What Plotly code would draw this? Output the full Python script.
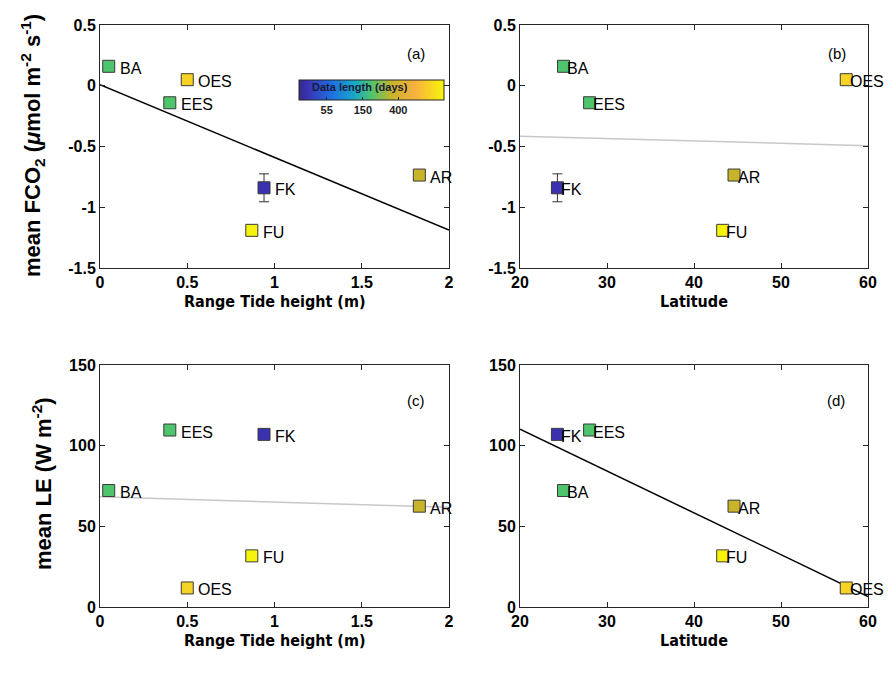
import numpy as np
import plotly.graph_objects as go

# ---------------- data ----------------
sites = ["BA", "OES", "EES", "FK", "FU", "AR"]
tide_range = [0.05, 0.50, 0.40, 0.94, 0.87, 1.83]
latitude = [25.0, 57.5, 28.0, 24.3, 43.3, 44.6]
fco2_mean = [0.16, 0.05, -0.14, -0.84, -1.19, -0.735]
fco2_err = [None, None, None, 0.115, None, None]
le_mean = [72.2, 11.8, 109.7, 107.0, 31.7, 62.5]
data_days = [190, 950, 190, 32, 1400, 335]

fco2_ticks = [-1.5, -1, -0.5, 0, 0.5]
fco2_ticktext = ["-1.5", "-1", "-0.5", "0", "0.5"]
le_ticks = [0, 50, 100, 150]
le_ticktext = ["0", "50", "100", "150"]
tide_ticks = [0, 0.5, 1, 1.5, 2]
tide_ticktext = ["0", "0.5", "1", "1.5", "2"]
lat_ticks = [20, 30, 40, 50, 60]
lat_ticktext = ["20", "30", "40", "50", "60"]
cbar_days = [55, 150, 400]
cbar_ticktext = ["55", "150", "400"]
panel_letters = ["(a)", "(b)", "(c)", "(d)"]

# ---------------- layout helpers ----------------
W, H = 889, 675
def fx(p):
    return p / W
def fy(p):
    return 1 - p / H

FONT = "Liberation Sans, Arial, sans-serif"
NARROW = "Liberation Sans Narrow, Arial Narrow, DejaVu Sans Condensed, Liberation Sans, sans-serif"
AX = "#262626"

parula_like = [
    [0.00, "#352a87"], [0.06, "#3a32b4"], [0.22, "#1f6ee0"], [0.38, "#17a8c8"],
    [0.50, "#4ec46c"], [0.64, "#c8b42a"], [0.80, "#f8b040"], [1.00, "#f7f50a"],
]
cmin, cmax = 1.407, 3.152
color_vals = np.log10(data_days)

x_dom_left = [fx(100), fx(449)]
x_dom_right = [fx(520), fx(868)]
y_dom_top = [fy(268), fy(25)]
y_dom_bot = [fy(607), fy(365)]

panels = [
    dict(xa="x", ya="y", xs=tide_range, ys=fco2_mean, err=fco2_err, xr=[0, 2],
         line="#000000", shift=9),
    dict(xa="x2", ya="y2", xs=latitude, ys=fco2_mean, err=fco2_err, xr=[20, 60],
         line="#c8c8c8", shift=1.5),
    dict(xa="x3", ya="y3", xs=tide_range, ys=le_mean, err=None, xr=[0, 2],
         line="#c8c8c8", shift=9),
    dict(xa="x4", ya="y4", xs=latitude, ys=le_mean, err=None, xr=[20, 60],
         line="#000000", shift=1.5),
]

fig = go.Figure()
annotations = []

for i, p in enumerate(panels):
    xs = np.array(p["xs"], dtype=float)
    ys = np.array(p["ys"], dtype=float)
    coef = np.polyfit(xs, ys, 1)
    lx = np.array(p["xr"], dtype=float)
    fig.add_trace(go.Scatter(x=lx, y=np.polyval(coef, lx), mode="lines",
                             line=dict(color=p["line"], width=1.5),
                             xaxis=p["xa"], yaxis=p["ya"], showlegend=False, hoverinfo="skip"))
    if p["err"] is not None:
        idx = [k for k, e in enumerate(p["err"]) if e is not None]
        fig.add_trace(go.Scatter(x=xs[idx], y=ys[idx], mode="markers",
                                 marker=dict(size=1, opacity=0),
                                 error_y=dict(type="data", array=[p["err"][k] for k in idx],
                                              color="#333333", thickness=1, width=5),
                                 xaxis=p["xa"], yaxis=p["ya"], showlegend=False))
    fig.add_trace(go.Scatter(x=xs, y=ys, mode="markers",
                             marker=dict(symbol="square", size=12, color=color_vals,
                                         coloraxis="coloraxis",
                                         line=dict(color="#3a3a3a", width=1)),
                             xaxis=p["xa"], yaxis=p["ya"], showlegend=False))
    for k, s in enumerate(sites):
        annotations.append(dict(x=xs[k], y=ys[k], xref=p["xa"], yref=p["ya"], text=s,
                                showarrow=False, xanchor="left", yanchor="middle",
                                xshift=p["shift"], yshift=-2,
                                font=dict(family=FONT, size=16, color="#000000")))

def axis_style(dom, rng, tickvals, ticktext):
    return dict(domain=dom, range=rng, tickvals=tickvals, ticktext=ticktext,
                showline=True, mirror="ticks", linecolor=AX, linewidth=1,
                ticks="inside", ticklen=5, tickcolor=AX, showgrid=False, zeroline=False,
                automargin=False,
                tickfont=dict(family=FONT, size=16, color="#000000", weight="bold"))

fig.update_layout(
    width=W, height=H, margin=dict(l=0, r=0, t=0, b=0, autoexpand=False),
    paper_bgcolor="white", plot_bgcolor="white",
    xaxis=dict(anchor="y", **axis_style(x_dom_left, [0, 2], tide_ticks, tide_ticktext)),
    yaxis=dict(anchor="x", **axis_style(y_dom_top, [-1.5, 0.5], fco2_ticks, fco2_ticktext)),
    xaxis2=dict(anchor="y2", **axis_style(x_dom_right, [20, 60], lat_ticks, lat_ticktext)),
    yaxis2=dict(anchor="x2", **axis_style(y_dom_top, [-1.5, 0.5], fco2_ticks, fco2_ticktext)),
    xaxis3=dict(anchor="y3", **axis_style(x_dom_left, [0, 2], tide_ticks, tide_ticktext)),
    yaxis3=dict(anchor="x3", **axis_style(y_dom_bot, [0, 150], le_ticks, le_ticktext)),
    xaxis4=dict(anchor="y4", **axis_style(x_dom_right, [20, 60], lat_ticks, lat_ticktext)),
    yaxis4=dict(anchor="x4", **axis_style(y_dom_bot, [0, 150], le_ticks, le_ticktext)),
    coloraxis=dict(
        colorscale=parula_like, cmin=cmin, cmax=cmax,
        colorbar=dict(orientation="h", x=fx(371.5), xanchor="center", y=fy(80), yanchor="top",
                      len=145, lenmode="pixels", thickness=20, xpad=0, ypad=0,
                      tickvals=list(np.log10(cbar_days)), ticktext=cbar_ticktext,
                      ticks="inside", ticklen=3, tickcolor=AX,
                      outlinewidth=1, outlinecolor=AX,
                      tickfont=dict(family=FONT, size=11, color="#222222", weight="bold")),
    ),
)

# axis titles
xt = dict(family=NARROW, size=16, color="#000000", weight="bold")
yt = dict(family=FONT, size=22, color="#000000", weight="bold")
annotations += [
    dict(x=fx(274.5), y=fy(301), xref="paper", yref="paper", text="Range Tide height (m)",
         showarrow=False, xanchor="center", yanchor="middle", font=xt),
    dict(x=fx(694), y=fy(301), xref="paper", yref="paper", text="Latitude",
         showarrow=False, xanchor="center", yanchor="middle", font=xt),
    dict(x=fx(274.5), y=fy(640), xref="paper", yref="paper", text="Range Tide height (m)",
         showarrow=False, xanchor="center", yanchor="middle", font=xt),
    dict(x=fx(694), y=fy(640), xref="paper", yref="paper", text="Latitude",
         showarrow=False, xanchor="center", yanchor="middle", font=xt),
    dict(x=fx(32), y=fy(146), xref="paper", yref="paper",
         text="mean FCO<sub>2</sub> (<i>μ</i>mol m<sup>-2</sup> s<sup>-1</sup>)",
         showarrow=False, textangle=-90, xanchor="center", yanchor="middle", font=yt),
    dict(x=fx(42), y=fy(484), xref="paper", yref="paper", text="mean LE (W m<sup>-2</sup>)",
         showarrow=False, textangle=-90, xanchor="center", yanchor="middle", font=yt),
    dict(x=fx(360), y=fy(87), xref="paper", yref="paper", text="Data length (days)",
         showarrow=False, xanchor="center", yanchor="middle",
         font=dict(family=FONT, size=11, color="#1a1a3a", weight="bold")),
]
for letter, (px, py) in zip(panel_letters, [(416, 53), (837, 53), (416, 400), (836, 400)]):
    annotations.append(dict(x=fx(px), y=fy(py), xref="paper", yref="paper", text=letter,
                            showarrow=False, xanchor="center", yanchor="middle",
                            font=dict(family=FONT, size=15, color="#000000")))

fig.update_layout(annotations=annotations)
fig.write_html("out.html")
